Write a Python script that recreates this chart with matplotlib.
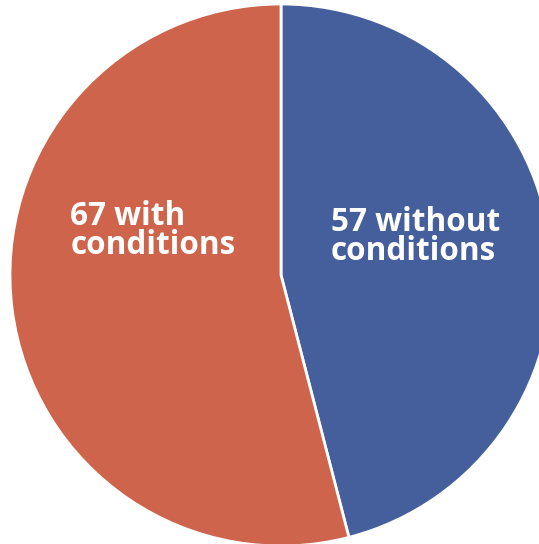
import matplotlib
matplotlib.use('Agg')
import matplotlib.pyplot as plt

labels = ['57 without\nconditions', '67 with\nconditions']
values = [57, 67]
colors = ['#455f9c', '#cd644b']

fig = plt.figure(figsize=(5.39, 5.44), dpi=100)
ax = fig.add_axes([0, 0, 1, 1])

wedges, _ = ax.pie(values, colors=colors, startangle=90, counterclock=False,
                   radius=1.0, wedgeprops=dict(edgecolor='white', linewidth=2))

# label spots, one per slice
label_xy = [(0.184, 0.14), (-0.778, 0.162)]
for txt, (x, y) in zip(labels, label_xy):
    ax.text(x, y, txt, color='white', fontsize=22.7, fontweight='bold',
            family=['Open Sans', 'DejaVu Sans'], ha='left', va='center', linespacing=0.82)

ax.set_aspect('auto')
ax.set_xlim(-281 / 271, 258 / 271)
ax.set_ylim(-269 / 271, 275 / 271)
ax.axis('off')

fig.savefig('out.png', dpi=100, facecolor='white')
